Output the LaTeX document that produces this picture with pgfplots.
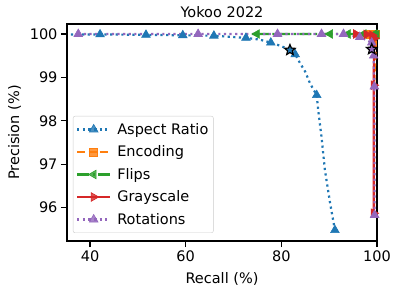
\documentclass[border=0pt]{standalone}
\usepackage{pgfplots}
\pgfplotsset{compat=1.18}
\usepackage{fontspec}
\setmainfont{DejaVu Sans}
\definecolor{tblue}{HTML}{1F77B4}
\definecolor{torange}{HTML}{FF7F0E}
\definecolor{tgreen}{HTML}{2CA02C}
\definecolor{tred}{HTML}{D62728}
\definecolor{tpurple}{HTML}{9467BD}
\newcommand{\bigfont}{\fontsize{14.5}{17}\selectfont}
\pgfdeclareplotmark{fstar}{%
\pgfpathmoveto{\pgfpointpolar{90}{\pgfplotmarksize}}%
\pgfpathlineto{\pgfpointpolar{126}{0.45\pgfplotmarksize}}%
\pgfpathlineto{\pgfpointpolar{162}{\pgfplotmarksize}}%
\pgfpathlineto{\pgfpointpolar{198}{0.45\pgfplotmarksize}}%
\pgfpathlineto{\pgfpointpolar{234}{\pgfplotmarksize}}%
\pgfpathlineto{\pgfpointpolar{270}{0.45\pgfplotmarksize}}%
\pgfpathlineto{\pgfpointpolar{306}{\pgfplotmarksize}}%
\pgfpathlineto{\pgfpointpolar{342}{0.45\pgfplotmarksize}}%
\pgfpathlineto{\pgfpointpolar{18}{\pgfplotmarksize}}%
\pgfpathlineto{\pgfpointpolar{54}{0.45\pgfplotmarksize}}%
\pgfpathclose
\pgfusepathqfillstroke}
\begin{document}
\begin{tikzpicture}
\path[use as bounding box] (-67pt,-52pt) rectangle (331pt,241pt);
\begin{axis}[
  at={(0pt,0pt)}, anchor=south west,
  width=310pt, height=217pt, scale only axis,
  xmin=35.19, xmax=100, ymin=95.23, ymax=100.23,
  xtick={40,60,80,100}, ytick={96,97,98,99,100},
  xtick pos=left, ytick pos=left,
  tick align=outside, major tick length=6pt,
  every tick/.style={black, line width=1.2pt},
  axis line style={line width=1.2pt},
  /pgf/number format/assume math mode=true,
  tick label style={font=\bigfont},
  label style={font=\bigfont},
  title style={font=\bigfont, yshift=-3pt},
  title={Yokoo 2022},
  xlabel={Recall (\%)}, ylabel={Precision (\%)},
  xlabel style={yshift=-4pt}, ylabel style={yshift=2pt},
  legend style={at={(0.019,0.037)}, anchor=south west, draw=black!20,
    rounded corners=2pt, fill=white, fill opacity=0.8, text opacity=1,
    inner xsep=3pt, inner ysep=5pt, row sep=6pt, column sep=4pt, font=\bigfont},
  legend cell align=left,
  legend image code/.code={\draw[mark indices={2}] plot coordinates {(0pt,0pt)(16.5pt,0pt)(33pt,0pt)};},
]
\addplot[tblue, line width=2.2pt, dash pattern=on 2.2pt off 3.4pt, mark=triangle*, mark size=5pt,
  mark options={solid, fill=tblue, line width=0.6pt}, mark indices={2,3,4,5,6,8,11,15,20}]
coordinates {(36.0,99.99)(42.1,99.99)(51.7,99.98)(59.4,99.97)(65.9,99.96)(72.6,99.91)(75.5,99.87)
(77.8,99.80)(80.0,99.72)(81.8,99.63)(82.9,99.53)(83.9,99.33)(85.0,99.13)(86.0,98.86)(87.4,98.59)
(87.7,98.25)(88.4,97.63)(89.1,96.87)(90.2,96.10)(91.2,95.48)};
\addlegendentry{Aspect Ratio}
\addplot[torange, line width=2.2pt, dash pattern=on 8pt off 3.5pt, mark=square*, mark size=4pt,
  mark options={solid, fill=torange, line width=0.6pt}, mark indices={1,2}]
coordinates {(98.5,100)(99.6,99.99)(99.8,99.95)(99.4,98.8)(99.4,95.9)};
\addlegendentry{Encoding}
\addplot[tgreen, line width=2.2pt, dash pattern=on 12pt off 3.5pt on 2.2pt off 3.5pt, mark=triangle*, mark size=5pt,
  mark options={solid, fill=tgreen, rotate=90, line width=0.6pt}]
coordinates {(74.9,100)(90.2,100)(93.9,100)(97.2,100)(99.5,100)(99.9,99.98)};
\addlegendentry{Flips}
\addplot[tred, line width=2.2pt, mark=triangle*, mark size=5pt,
  mark options={solid, fill=tred, rotate=-90, line width=0.6pt}]
coordinates {(95.6,100)(97.8,99.99)(99.0,99.97)(99.4,99.9)(99.3,98.82)(99.3,95.87)};
\addlegendentry{Grayscale}
\addplot[tpurple, line width=2.2pt, dash pattern=on 2.2pt off 3.4pt, mark=triangle*, mark size=5pt,
  mark options={solid, fill=tpurple, line width=0.6pt}, mark indices={1,2,3,4,5,6,7,9,10,11}]
coordinates {(37.55,100)(62.6,100)(79.2,100)(88.4,100)(93.0,100)(96.4,99.93)(98.9,99.80)
(99.0,99.65)(99.3,99.5)(99.45,98.79)(99.5,95.83)};
\addlegendentry{Rotations}
\addplot[only marks, mark=fstar, mark size=5.5pt, draw=black, fill=tblue, line width=1.2pt, forget plot]
coordinates {(81.8,99.63)};
\addplot[only marks, mark=fstar, mark size=5.5pt, draw=black, fill=tpurple, line width=1.2pt, forget plot]
coordinates {(98.9,99.65)};
\end{axis}
\end{tikzpicture}
\end{document}
